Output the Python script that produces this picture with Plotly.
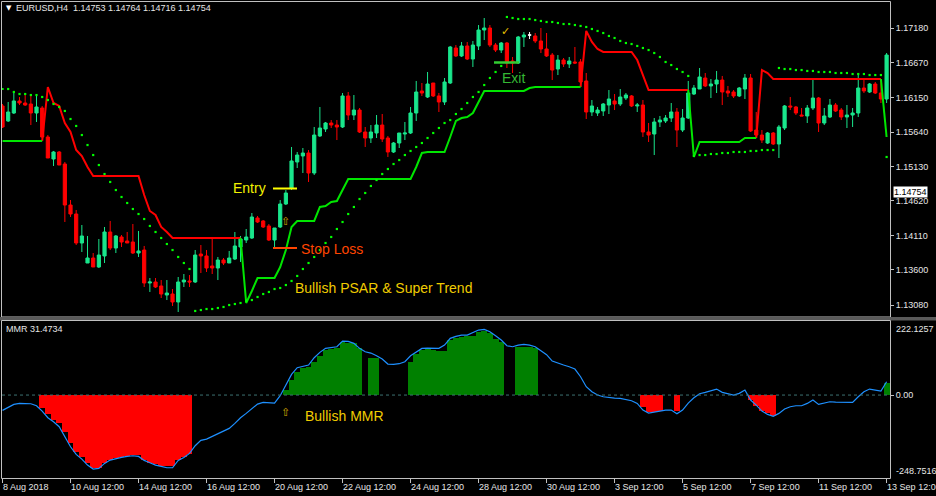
import plotly.graph_objects as go

W, H = 936, 496

# ---------------- data ----------------
bar_index = list(range(157))

tick_bars = [0, 12, 24, 36, 48, 60, 72, 84, 96, 108, 120, 132, 144, 156]
tick_labels = ["8 Aug 2018", "10 Aug 12:00", "14 Aug 12:00", "16 Aug 12:00", "20 Aug 12:00",
               "22 Aug 12:00", "24 Aug 12:00", "28 Aug 12:00", "30 Aug 12:00", "3 Sep 12:00",
               "5 Sep 12:00", "7 Sep 12:00", "11 Sep 12:00", "13 Sep 12:00"]

price_ticks = [1.17180, 1.16670, 1.16150, 1.15640, 1.15130, 1.14620, 1.14110, 1.13600, 1.13080]

open_ = [
    1.16026, 1.15804, 1.15922, 1.16100, 1.16070, 1.16055, 1.15922, 1.15996, 1.15567, 1.15241,
    1.15345, 1.15167, 1.14560, 1.14427, 1.13998, 1.13702, 1.13776, 1.13643, 1.13806, 1.14161,
    1.13924, 1.14087, 1.14028, 1.14013, 1.13850, 1.13894, 1.13406, 1.13421, 1.13362, 1.13228,
    1.13243, 1.13125, 1.13421, 1.13436, 1.13421, 1.13835, 1.13806, 1.13658, 1.13628, 1.13746,
    1.13702, 1.13761, 1.13939, 1.14042, 1.14072, 1.14368, 1.14324, 1.14250, 1.14042, 1.14235,
    1.14575, 1.14812, 1.15197, 1.15286, 1.15330, 1.15034, 1.15582, 1.15685, 1.15774, 1.15744,
    1.15715, 1.16174, 1.15892, 1.15966, 1.15641, 1.15552, 1.15626, 1.15744, 1.15552, 1.15345,
    1.15478, 1.15611, 1.15626, 1.15922, 1.16248, 1.16159, 1.16366, 1.16174, 1.16085, 1.16366,
    1.16884, 1.16766, 1.16914, 1.16721, 1.16914, 1.17150, 1.17180, 1.16928, 1.16854, 1.16958,
    1.16692, 1.16662, 1.17047, 1.17076, 1.17062, 1.16988, 1.16869, 1.16780, 1.16573, 1.16706,
    1.16647, 1.16677, 1.16677, 1.16396, 1.15937, 1.15922, 1.15952, 1.16040, 1.16100, 1.16055,
    1.16144, 1.16174, 1.16026, 1.16040, 1.15641, 1.15611, 1.15789, 1.15804, 1.15848, 1.15937,
    1.15670, 1.15848, 1.16203, 1.16277, 1.16440, 1.16322, 1.16351, 1.16410, 1.16248, 1.16233,
    1.16174, 1.16277, 1.16440, 1.15670, 1.15596, 1.15478, 1.15626, 1.15463, 1.15700, 1.16026,
    1.16011, 1.15892, 1.15878, 1.15996, 1.16144, 1.15774, 1.15863, 1.16040, 1.15966, 1.15863,
    1.15892, 1.15922, 1.16292, 1.16233, 1.16351, 1.16218, 1.16129]

high = [
    1.16055, 1.16085, 1.16218, 1.16159, 1.16203, 1.16188, 1.16188, 1.16026, 1.15596, 1.15360,
    1.15360, 1.15197, 1.14634, 1.14486, 1.14264, 1.14102, 1.13850, 1.14057, 1.14235, 1.14324,
    1.14116, 1.14116, 1.14161, 1.14279, 1.14176, 1.13954, 1.13480, 1.13480, 1.13450, 1.13450,
    1.13317, 1.13495, 1.13539, 1.13524, 1.13894, 1.13968, 1.13894, 1.14087, 1.13791, 1.13776,
    1.13880, 1.14161, 1.14102, 1.14205, 1.14442, 1.14398, 1.14338, 1.14279, 1.14220, 1.14634,
    1.14782, 1.15419, 1.15345, 1.15404, 1.15374, 1.15715, 1.16011, 1.15789, 1.15818, 1.15818,
    1.16218, 1.16233, 1.16188, 1.15996, 1.15715, 1.15744, 1.15892, 1.15907, 1.15582, 1.15493,
    1.15626, 1.15789, 1.16011, 1.16396, 1.16366, 1.16529, 1.16366, 1.16218, 1.16440, 1.16914,
    1.16928, 1.16973, 1.16973, 1.16988, 1.17224, 1.17328, 1.17224, 1.16958, 1.16973, 1.16973,
    1.16751, 1.17062, 1.17121, 1.17121, 1.17106, 1.17180, 1.17106, 1.16810, 1.16780, 1.16736,
    1.16751, 1.16899, 1.16721, 1.16514, 1.16114, 1.16011, 1.16070, 1.16262, 1.16203, 1.16277,
    1.16218, 1.16188, 1.16070, 1.16114, 1.15774, 1.15848, 1.15878, 1.15892, 1.16070, 1.15996,
    1.15981, 1.16396, 1.16336, 1.16588, 1.16514, 1.16425, 1.16544, 1.16470, 1.16322, 1.16262,
    1.16307, 1.16499, 1.16499, 1.15937, 1.15670, 1.15641, 1.15641, 1.15744, 1.16040, 1.16159,
    1.16026, 1.15996, 1.16040, 1.16440, 1.16159, 1.15996, 1.16129, 1.16070, 1.15996, 1.16040,
    1.15996, 1.16514, 1.16410, 1.16366, 1.16381, 1.16410, 1.16810]

low = [
    1.15700, 1.15789, 1.15907, 1.16040, 1.16026, 1.15744, 1.15789, 1.15552, 1.15256, 1.15138,
    1.15152, 1.14309, 1.14383, 1.13968, 1.13865, 1.13702, 1.13643, 1.13628, 1.13702, 1.13894,
    1.13850, 1.13939, 1.13998, 1.13835, 1.13791, 1.13347, 1.13273, 1.13332, 1.13184, 1.13154,
    1.13066, 1.12977, 1.13347, 1.13347, 1.13406, 1.13554, 1.13569, 1.13539, 1.13450, 1.13672,
    1.13702, 1.13746, 1.13717, 1.13998, 1.14057, 1.14294, 1.14220, 1.14028, 1.13939, 1.14220,
    1.14560, 1.14782, 1.15108, 1.15034, 1.14901, 1.15004, 1.15567, 1.15641, 1.15700, 1.15522,
    1.15700, 1.15818, 1.15818, 1.15626, 1.15419, 1.15478, 1.15552, 1.15493, 1.15271, 1.15330,
    1.15404, 1.15522, 1.15611, 1.15804, 1.16174, 1.16144, 1.16159, 1.15937, 1.16040, 1.16351,
    1.16751, 1.16751, 1.16706, 1.16603, 1.16854, 1.17002, 1.16899, 1.16825, 1.16810, 1.16588,
    1.16514, 1.16647, 1.16899, 1.17017, 1.16958, 1.16810, 1.16751, 1.16410, 1.16484, 1.16603,
    1.16588, 1.16647, 1.16307, 1.15833, 1.15878, 1.15878, 1.15878, 1.15907, 1.15966, 1.16026,
    1.16114, 1.16011, 1.15937, 1.15567, 1.15493, 1.15300, 1.15715, 1.15774, 1.15789, 1.15419,
    1.15641, 1.15833, 1.16188, 1.16277, 1.16307, 1.16144, 1.16218, 1.16040, 1.16159, 1.16144,
    1.16159, 1.16129, 1.15641, 1.15567, 1.15478, 1.15463, 1.15448, 1.15256, 1.15670, 1.15966,
    1.15892, 1.15878, 1.15774, 1.15966, 1.15641, 1.15744, 1.15848, 1.15937, 1.15818, 1.15700,
    1.15715, 1.15863, 1.16218, 1.16218, 1.16203, 1.16070, 1.16070]

close = [
    1.15715, 1.15937, 1.16100, 1.16070, 1.16040, 1.15922, 1.16011, 1.15567, 1.15256, 1.15345,
    1.15152, 1.14560, 1.14427, 1.13998, 1.14102, 1.13776, 1.13643, 1.13820, 1.14161, 1.13924,
    1.14102, 1.14013, 1.13998, 1.13850, 1.13880, 1.13406, 1.13421, 1.13347, 1.13243, 1.13258,
    1.13125, 1.13421, 1.13450, 1.13421, 1.13820, 1.13806, 1.13628, 1.13628, 1.13746, 1.13702,
    1.13776, 1.13954, 1.14057, 1.14087, 1.14383, 1.14309, 1.14235, 1.14042, 1.14220, 1.14575,
    1.14738, 1.15212, 1.15300, 1.15330, 1.15034, 1.15596, 1.15700, 1.15774, 1.15744, 1.15715,
    1.16174, 1.15892, 1.15966, 1.15641, 1.15552, 1.15641, 1.15744, 1.15537, 1.15345, 1.15478,
    1.15626, 1.15626, 1.15922, 1.16233, 1.16218, 1.16351, 1.16174, 1.16085, 1.16381, 1.16899,
    1.16766, 1.16914, 1.16721, 1.16928, 1.17150, 1.17180, 1.16928, 1.16854, 1.16958, 1.16662,
    1.16662, 1.17047, 1.17076, 1.17076, 1.16988, 1.16869, 1.16766, 1.16558, 1.16706, 1.16647,
    1.16692, 1.16662, 1.16381, 1.15937, 1.16026, 1.15966, 1.16055, 1.16129, 1.16055, 1.16159,
    1.16188, 1.16026, 1.16040, 1.15641, 1.15596, 1.15789, 1.15818, 1.15848, 1.15937, 1.15670,
    1.15848, 1.16218, 1.16292, 1.16455, 1.16322, 1.16351, 1.16410, 1.16233, 1.16218, 1.16174,
    1.16292, 1.16440, 1.15656, 1.15596, 1.15522, 1.15626, 1.15463, 1.15715, 1.16026, 1.16011,
    1.15922, 1.15878, 1.15996, 1.16144, 1.15774, 1.15878, 1.16040, 1.15952, 1.15863, 1.15892,
    1.15922, 1.16292, 1.16248, 1.16351, 1.16218, 1.16129, 1.16780]

supertrend = [
    1.15508, 1.15508, 1.15508, 1.15508, 1.15508, 1.15508, 1.15508, 1.15508, 1.16307, 1.16070,
    1.16026, 1.15774, 1.15641, 1.15374, 1.15286, 1.15123, 1.14990, 1.14990, 1.14990, 1.14990,
    1.14990, 1.14990, 1.14990, 1.14990, 1.14990, 1.14708, 1.14472, 1.14412, 1.14235, 1.14161,
    1.14072, 1.14072, 1.14072, 1.14072, 1.14072, 1.14072, 1.14072, 1.14072, 1.14072, 1.14072,
    1.14072, 1.14072, 1.14072, 1.13110, 1.13288, 1.13480, 1.13480, 1.13480, 1.13480, 1.13643,
    1.13894, 1.14235, 1.14324, 1.14324, 1.14324, 1.14324, 1.14531, 1.14546, 1.14604, 1.14619,
    1.14782, 1.14945, 1.14945, 1.14945, 1.14945, 1.14945, 1.14945, 1.14945, 1.14945, 1.14945,
    1.14945, 1.14945, 1.14945, 1.15123, 1.15330, 1.15345, 1.15345, 1.15345, 1.15345, 1.15567,
    1.15804, 1.15848, 1.15863, 1.15922, 1.16085, 1.16248, 1.16248, 1.16248, 1.16248, 1.16248,
    1.16248, 1.16248, 1.16248, 1.16292, 1.16307, 1.16307, 1.16307, 1.16307, 1.16307, 1.16307,
    1.16307, 1.16307, 1.16307, 1.17136, 1.16973, 1.16869, 1.16825, 1.16825, 1.16825, 1.16825,
    1.16825, 1.16825, 1.16706, 1.16484, 1.16262, 1.16262, 1.16262, 1.16262, 1.16262, 1.16262,
    1.16262, 1.16262, 1.15271, 1.15493, 1.15493, 1.15493, 1.15493, 1.15493, 1.15493, 1.15493,
    1.15493, 1.15552, 1.15552, 1.15552, 1.16558, 1.16514, 1.16425, 1.16425, 1.16425, 1.16425,
    1.16425, 1.16425, 1.16425, 1.16425, 1.16425, 1.16425, 1.16425, 1.16425, 1.16425, 1.16425,
    1.16425, 1.16425, 1.16425, 1.16425, 1.16425, 1.16425, 1.15567]

# 1 = bullish (green line below price), -1 = bearish (red line above price)
trend = [
    1, 1, 1, 1, 1, 1, 1, 1, -1, -1,
    -1, -1, -1, -1, -1, -1, -1, -1, -1, -1,
    -1, -1, -1, -1, -1, -1, -1, -1, -1, -1,
    -1, -1, -1, -1, -1, -1, -1, -1, -1, -1,
    -1, -1, -1, 1, 1, 1, 1, 1, 1, 1,
    1, 1, 1, 1, 1, 1, 1, 1, 1, 1,
    1, 1, 1, 1, 1, 1, 1, 1, 1, 1,
    1, 1, 1, 1, 1, 1, 1, 1, 1, 1,
    1, 1, 1, 1, 1, 1, 1, 1, 1, 1,
    1, 1, 1, 1, 1, 1, 1, 1, 1, 1,
    1, 1, 1, -1, -1, -1, -1, -1, -1, -1,
    -1, -1, -1, -1, -1, -1, -1, -1, -1, -1,
    -1, -1, 1, 1, 1, 1, 1, 1, 1, 1,
    1, 1, 1, 1, -1, -1, -1, -1, -1, -1,
    -1, -1, -1, -1, -1, -1, -1, -1, -1, -1,
    -1, -1, -1, -1, -1, -1, 1]

psar = [
    1.16277, 1.16277, 1.16233, 1.16203, 1.16203, 1.16188, 1.16188, 1.16159, 1.16114, 1.16055,
    1.16011, 1.15952, 1.15833, 1.15730, 1.15596, 1.15448, 1.15300, 1.15152, 1.15019, 1.14901,
    1.14782, 1.14679, 1.14590, 1.14501, 1.14427, 1.14353, 1.14250, 1.14161, 1.14072, 1.13983,
    1.13894, 1.13791, 1.13702, 1.13613, 1.12992, 1.13006, 1.13021, 1.13021, 1.13036, 1.13051,
    1.13080, 1.13095, 1.13110, 1.13140, 1.13154, 1.13199, 1.13243, 1.13273, 1.13317, 1.13332,
    1.13376, 1.13436, 1.13510, 1.13613, 1.13702, 1.13791, 1.13894, 1.13998, 1.14087, 1.14205,
    1.14309, 1.14427, 1.14531, 1.14649, 1.14738, 1.14842, 1.14930, 1.15019, 1.15093, 1.15167,
    1.15226, 1.15300, 1.15360, 1.15419, 1.15478, 1.15552, 1.15626, 1.15700, 1.15774, 1.15818,
    1.15907, 1.15981, 1.16070, 1.16159, 1.16233, 1.16336, 1.16440, 1.16529, 1.16618, 1.17343,
    1.17328, 1.17313, 1.17313, 1.17313, 1.17298, 1.17284, 1.17269, 1.17269, 1.17254, 1.17239,
    1.17239, 1.17224, 1.17210, 1.17195, 1.17165, 1.17136, 1.17106, 1.17062, 1.17032, 1.16988,
    1.16958, 1.16943, 1.16914, 1.16884, 1.16854, 1.16810, 1.16751, 1.16677, 1.16632, 1.16573,
    1.16529, 1.16470, 1.15286, 1.15300, 1.15300, 1.15315, 1.15315, 1.15330, 1.15330, 1.15345,
    1.15345, 1.15345, 1.15360, 1.15360, 1.15374, 1.15374, 1.15374, 1.16588, 1.16573, 1.16573,
    1.16558, 1.16558, 1.16544, 1.16544, 1.16529, 1.16529, 1.16529, 1.16514, 1.16514, 1.16514,
    1.16499, 1.16499, 1.16499, 1.16484, 1.16484, 1.16484, 1.15271]

mmr_line = [
    -46, -36, -28, -25, -25, -26, -32, -48, -68, -80,
    -95, -125, -155, -178, -192, -210, -222, -220, -205, -195,
    -190, -187, -184, -182, -184, -196, -203, -210, -214, -218,
    -218, -196, -187, -175, -152, -136, -132, -124, -117, -110,
    -100, -85, -68, -55, -40, -27, -22, -22, -24, -2,
    30, 62, 82, 87, 90, 112, 128, 140, 143, 145,
    162, 161, 155, 140, 130, 126, 118, 108, 93, 92,
    94, 100, 118, 130, 140, 141, 140, 140, 150, 170,
    176, 180, 180, 188, 195, 197, 190, 178, 165, 148,
    145, 150, 152, 150, 145, 133, 121, 102, 95, 90,
    85, 78, 55, 25, 10, 0, -5, -8, -9, -10,
    -13, -17, -25, -45, -54, -51, -48, -45, -45, -56,
    -45, -24, -8, 4, 8, 13, 18, 8, 3, 0,
    5, 15, -15, -30, -48, -58, -64, -55, -42, -35,
    -32, -32, -25, -15, -28, -25, -20, -21, -22, -22,
    -22, -5, 10, 18, 15, 12, 40]

mmr_hist = [
    None, None, None, None, None, None, None, -40, -58, -75,
    -85, -112, -145, -170, -185, -205, -218, -218, -205, -195,
    -188, -186, -182, -180, -180, -195, -205, -208, -212, -214,
    -214, -196, -186, -178, None, None, None, None, None, None,
    None, None, None, None, None, None, None, None, None, None,
    15, 45, 70, 82, 84, 100, 118, 135, 137, 140,
    158, 157, 155, 142, None, 112, 112, None, None, None,
    None, None, 100, 122, 135, 137, 135, 132, 132, 165,
    172, 175, 178, 178, 190, 192, 185, 168, 160, None,
    None, 145, 145, 145, 140, None, None, None, None, None,
    None, None, None, None, None, None, None, None, None, None,
    None, None, None, -35, -50, -50, -48, None, None, -48,
    None, None, None, None, None, None, None, None, None, None,
    None, None, -15, -32, -48, -55, -63, None, None, None,
    None, None, None, None, None, None, None, None, None, None,
    None, None, None, None, None, None, 35]

mmr_max, mmr_min = 222.1257, -248.7516
last_price = 1.14754

# ---------------- helpers (layout only) ----------------
def px(x):
    return x / W

def py(y):
    return 1 - y / H

FONT = "Liberation Sans"

fig = go.Figure()

# candles (doji drawn separately in white)
normal = [i for i in bar_index if open_[i] != close[i]]
doji = [i for i in bar_index if open_[i] == close[i]]

fig.add_trace(go.Candlestick(
    x=normal,
    open=[open_[i] for i in normal], high=[high[i] for i in normal],
    low=[low[i] for i in normal], close=[close[i] for i in normal],
    increasing=dict(line=dict(color="#19e68c", width=1), fillcolor="#19e68c"),
    decreasing=dict(line=dict(color="#ff0000", width=1), fillcolor="#ff0000"),
    whiskerwidth=0, hoverinfo="skip", xaxis="x", yaxis="y"))

fig.add_trace(go.Candlestick(
    x=doji,
    open=[open_[i] for i in doji], high=[high[i] for i in doji],
    low=[low[i] for i in doji], close=[close[i] for i in doji],
    increasing=dict(line=dict(color="#ffffff", width=1), fillcolor="#ffffff"),
    decreasing=dict(line=dict(color="#ffffff", width=1), fillcolor="#ffffff"),
    whiskerwidth=0, hoverinfo="skip", xaxis="x", yaxis="y"))

# supertrend split into colours (flip bars connect from previous value)
st_up = [None] * len(bar_index)
st_dn = [None] * len(bar_index)
for i in bar_index:
    if trend[i] == 1:
        st_up[i] = supertrend[i]
        if i > 0 and trend[i - 1] == -1:
            st_up[i - 1] = supertrend[i - 1]
    else:
        st_dn[i] = supertrend[i]
        if i > 0 and trend[i - 1] == 1:
            st_dn[i - 1] = supertrend[i - 1]

fig.add_trace(go.Scatter(x=bar_index, y=st_dn, mode="lines", connectgaps=False,
                         line=dict(color="#ff0000", width=2), hoverinfo="skip",
                         xaxis="x", yaxis="y"))
fig.add_trace(go.Scatter(x=bar_index, y=st_up, mode="lines", connectgaps=False,
                         line=dict(color="#00e600", width=2), hoverinfo="skip",
                         xaxis="x", yaxis="y"))

# parabolic SAR dots
fig.add_trace(go.Scatter(x=bar_index, y=psar, mode="markers",
                         marker=dict(symbol="square", size=2.2, color="#00ff00",
                                     line=dict(width=0)),
                         hoverinfo="skip", xaxis="x", yaxis="y"))

# MMR histogram
hist_pos = [v if (v is not None and v > 0) else None for v in mmr_hist]
hist_neg = [v if (v is not None and v < 0) else None for v in mmr_hist]
fig.add_trace(go.Bar(x=bar_index, y=hist_pos, width=1.04, marker=dict(color="#008000", line=dict(width=0)),
                     hoverinfo="skip", xaxis="x", yaxis="y2"))
fig.add_trace(go.Bar(x=bar_index, y=hist_neg, width=1.04, marker=dict(color="#ff0000", line=dict(width=0)),
                     hoverinfo="skip", xaxis="x", yaxis="y2"))
fig.add_trace(go.Scatter(x=bar_index, y=mmr_line, mode="lines",
                         line=dict(color="#1e90ff", width=1.2), hoverinfo="skip",
                         xaxis="x", yaxis="y2"))

axis_font = dict(family=FONT, size=9, color="#e6e6e6")

fig.update_layout(
    width=W, height=H, autosize=False,
    margin=dict(l=0, r=0, t=0, b=0, pad=0, autoexpand=False),
    paper_bgcolor="#000000", plot_bgcolor="#000000",
    showlegend=False, barmode="overlay", bargap=0, boxgap=0.2,
    font=dict(family=FONT, size=9, color="#e6e6e6"),
    xaxis=dict(domain=[px(2), px(890)], range=[-0.09, 156.6], anchor="y2",
               showgrid=False, zeroline=False, showline=False, automargin=False,
               tickmode="array", tickvals=tick_bars, ticktext=tick_labels,
               ticks="outside", ticklen=4, tickcolor="#c0c0c0", tickwidth=1,
               ticklabelposition="outside right", ticklabeloverflow="allow",
               tickfont=axis_font,
               rangeslider=dict(visible=False), fixedrange=True),
    yaxis=dict(domain=[py(317), py(2)], range=[1.129028, 1.175648], anchor="x",
               side="right", showgrid=False, zeroline=False, showline=False, automargin=False,
               tickmode="array", tickvals=price_ticks,
               ticktext=["%.5f" % v for v in price_ticks],
               ticks="outside", ticklen=3, tickcolor="#c0c0c0", tickfont=axis_font,
               fixedrange=True),
    yaxis2=dict(domain=[py(478), py(321)], range=[mmr_min, mmr_max], anchor="x",
                side="right", showgrid=False, zeroline=False, showline=False, automargin=False,
                tickmode="array", tickvals=[0], ticktext=["0.00"],
                ticks="outside", ticklen=3, tickcolor="#c0c0c0", tickfont=axis_font,
                fixedrange=True),
)

shapes = [
    # main panel frame
    dict(type="rect", xref="paper", yref="paper", x0=px(1.5), x1=px(890.5), y0=py(317), y1=py(1.5),
         line=dict(color="#c0c0c0", width=1), fillcolor="rgba(0,0,0,0)", layer="above"),
    # separator band
    dict(type="rect", xref="paper", yref="paper", x0=0, x1=1, y0=py(320.5), y1=py(317),
         line=dict(width=0), fillcolor="#5a5a5a", layer="above"),
    # lower panel frame
    dict(type="rect", xref="paper", yref="paper", x0=px(1.5), x1=px(890.5), y0=py(478.5), y1=py(320.5),
         line=dict(color="#c0c0c0", width=1), fillcolor="rgba(0,0,0,0)", layer="above"),
    # zero level
    dict(type="line", xref="paper", yref="y2", x0=px(2), x1=px(890), y0=0, y1=0,
         line=dict(color="#3d7272", width=1, dash="dot"), layer="above"),
    # entry / stop loss / exit markers
    dict(type="line", xref="paper", yref="paper", x0=px(273), x1=px(297), y0=py(188.5), y1=py(188.5),
         line=dict(color="#ffff00", width=2)),
    dict(type="line", xref="paper", yref="paper", x0=px(273), x1=px(297), y0=py(248), y1=py(248),
         line=dict(color="#ff4500", width=2)),
    dict(type="line", xref="paper", yref="paper", x0=px(494), x1=px(519), y0=py(62.5), y1=py(62.5),
         line=dict(color="#32cd32", width=2.5)),
]

def txt(text, x, y, size, color, xanchor="left", yanchor="middle", bg=None, family=FONT):
    d = dict(text=text, xref="paper", yref="paper", x=px(x), y=py(y), showarrow=False,
             xanchor=xanchor, yanchor=yanchor, font=dict(family=family, size=size, color=color))
    if bg:
        d["bgcolor"] = bg
        d["borderpad"] = 0
    return d

annotations = [
    txt("▼", 4, 8, 7, "#ffffff", family="DejaVu Sans"),
    txt("EURUSD,H4  1.14753 1.14764 1.14716 1.14754", 14, 8.5, 9, "#e6e6e6"),
    txt("MMR 31.4734", 4, 328.5, 9, "#e6e6e6"),
    txt("Entry", 268, 187.5, 14, "#f2f200", xanchor="right"),
    txt("Stop Loss", 299, 249, 14, "#ff4500"),
    txt("Bullish PSAR &amp; Super Trend", 293, 287.5, 14, "#f0cc00"),
    txt("Exit", 500, 78, 14, "#34b834"),
    txt("⇧", 285.5, 221, 11, "#d4a800", xanchor="center", family="DejaVu Sans"),
    txt("✓", 506, 31.5, 11, "#e6c000", xanchor="center", family="DejaVu Sans"),
    txt("⇧", 285, 412, 11, "#d4a800", xanchor="center", family="DejaVu Sans"),
    txt("Bullish MMR", 303, 415.5, 14, "#f0cc00"),
    txt("%.5f" % last_price, 893, 192, 9, "#000000", bg="#ffffff"),
    txt("%.4f" % mmr_max, 894, 322, 9, "#e6e6e6", yanchor="top"),
    txt("%.4f" % mmr_min, 894, 478, 9, "#e6e6e6", yanchor="bottom"),
]

fig.update_layout(shapes=shapes, annotations=annotations)

fig.write_html("out.html",
               config={"displayModeBar": False},
               post_script="document.body.style.margin='0px';document.body.style.overflow='hidden';")
